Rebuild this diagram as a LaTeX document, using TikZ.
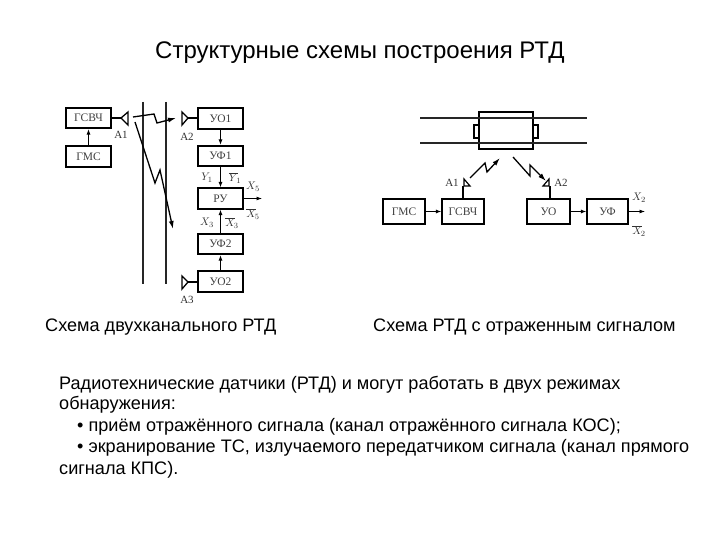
\documentclass[tikz,border=0pt]{standalone}
\usepackage{fontspec}
\setmainfont{Liberation Sans}
\newfontfamily\serifcyr{Liberation Serif}
\usetikzlibrary{arrows.meta}
\tikzset{
  x=1pt,y=-1pt,
  blockbox/.style={draw=black,line width=1.6pt,fill=white,inner sep=0pt,font=\serifcyr\fontsize{11.5}{12}\selectfont,text=black!75},
  lefta/.style={blockbox,minimum width=45pt,minimum height=20.5pt},
  rightw/.style={blockbox,line width=1.2pt,minimum height=25pt},
  link/.style={line width=0.9pt,-{Latex[length=5.5pt,width=4pt]}},
  stem/.style={line width=1.2pt},
  antenna/.style={draw=black,line width=1.3pt,fill=white,line join=miter},
  rail/.style={line width=2pt,black!85},
  bolt/.style={line width=1.3pt,-{Latex[length=8pt,width=5pt]}},
  small/.style={inner sep=0pt,font=\serifcyr\fontsize{11}{12}\selectfont,text=black!80},
  heading/.style={inner sep=0pt,anchor=base west,font=\fontsize{24}{26}\selectfont},
  caption/.style={inner sep=0pt,anchor=base west,font=\fontsize{18.1}{20}\selectfont},
  bodyline/.style={inner sep=0pt,anchor=base west,font=\fontsize{18.1}{20}\selectfont},
}
\begin{document}
\begin{tikzpicture}
\useasboundingbox[fill=white] (0,0) rectangle (720,540);
\node[heading] (title) at (155,59) {Структурные схемы построения РТД};
% left scheme: rails
\coordinate (r1t) at (143,102); \coordinate (r1b) at (143,284);
\coordinate (r2t) at (166,102); \coordinate (r2b) at (166,284);
\draw[rail] (r1t) -- (r1b);
\draw[rail,line width=1.6pt] (r2t) -- (r2b);
% left blocks
\node[lefta] (gsvch) at (88.5,118) {ГСВЧ};
\node[lefta] (gms) at (88.5,156.5) {ГМС};
\node[lefta] (uo1) at (220.5,118.5) {УО1};
\node[lefta] (uf1) at (220.5,156) {УФ1};
\node[lefta] (ru) at (220.5,198.5) {РУ};
\node[lefta] (uf2) at (220.5,244) {УФ2};
\node[lefta] (uo2) at (220.5,281.5) {УО2};
\draw[link] (gms) -- (gsvch);
\draw[link] (uo1) -- (uf1);
\draw[link] (uf1) -- (ru);
\draw[link] (uf2) -- (ru);
\draw[link] (uo2) -- (uf2);
% left antennas
\coordinate (a1tip) at (121,118);
\coordinate (a2tip) at (188,118);
\coordinate (a3tip) at (188,282);
\draw[stem] (gsvch) -- (a1tip);
\draw[stem] (uo1.west |- a2tip) -- (a2tip);
\draw[stem] (uo2.west |- a3tip) -- (a3tip);
\draw[antenna] (a1tip) -- (128,112) -- (128,125) -- cycle;
\draw[antenna] (a2tip) -- (182,112) -- (182,125) -- cycle;
\draw[antenna] (a3tip) -- (182,276) -- (182,289) -- cycle;
\node[small] (la1) at (121,135) {А1};
\node[small] (la2) at (187,137) {А2};
\node[small] (la3) at (187,300) {А3};
% left bolts
\coordinate (b1a) at (133,117); \coordinate (b1b) at (154,114);
\coordinate (b1c) at (157,123); \coordinate (b1d) at (176,118);
\draw[bolt] (b1a) -- (b1b) -- (b1c) -- (b1d);
\coordinate (b2a) at (135,122); \coordinate (b2b) at (155,183);
\coordinate (b2c) at (160,170); \coordinate (b2d) at (173,229);
\draw[bolt] (b2a) -- (b2b) -- (b2c) -- (b2d);
% left signal labels
\coordinate (ruout) at (262,198.5);
\draw[link] (ru) -- (ruout);
\node[small] (y1) at (207,178) {$Y_1$};
\node[small] (y1b) at (235,178) {$\overline{Y}_{\!1}$};
\node[small] (x3) at (207,223) {$X_3$};
\node[small] (x3b) at (232,223) {$\overline{X}_{\!3}$};
\node[small] (x5) at (253,187) {$X_5$};
\node[small] (x5b) at (253,214) {$\overline{X}_{\!5}$};
% right scheme
\coordinate (r3l) at (420,118); \coordinate (r3r) at (587,118);
\coordinate (r4l) at (420,143); \coordinate (r4r) at (587,143);
\node[draw=black,line width=1.1pt,fill=white,minimum width=5pt,minimum height=13pt,inner sep=0pt] (lug1) at (476.5,131.5) {};
\node[draw=black,line width=1.1pt,fill=white,minimum width=5pt,minimum height=13pt,inner sep=0pt] (lug2) at (535.5,131.5) {};
\node[draw=black,line width=1.2pt,minimum width=54pt,minimum height=37pt,inner sep=0pt,fill=white] (car) at (506,130.5) {};
\draw[rail] (r3l) -- (r3r);
\draw[rail] (r4l) -- (r4r);
\node[rightw,minimum width=42pt] (gms2) at (404,211.5) {ГМС};
\node[rightw,minimum width=42pt] (gsvch2) at (463,211.5) {ГСВЧ};
\node[rightw,minimum width=43pt] (uo) at (548.5,211.5) {УО};
\node[rightw,minimum width=41pt] (uf) at (607.5,211.5) {УФ};
\draw[link] (gms2) -- (gsvch2);
\draw[link] (uo) -- (uf);
\coordinate (ufout) at (645,211.5);
\draw[link] (uf) -- (ufout);
\coordinate (a4tip) at (463,186);
\coordinate (a5tip) at (550,186);
\draw[stem] (gsvch2.north -| a4tip) -- (a4tip);
\draw[stem] (uo.north -| a5tip) -- (a5tip);
\draw[antenna,line width=1.2pt] (464,179) -- (470,186) -- (464,186) -- cycle;
\draw[antenna,line width=1.2pt] (549,179) -- (549,186) -- (543,186) -- cycle;
\node[small] (la4) at (452,183) {А1};
\node[small] (la5) at (561,183) {А2};
\coordinate (b3a) at (470,178); \coordinate (b3b) at (485,163);
\coordinate (b3c) at (487,172); \coordinate (b3d) at (500,158);
\draw[bolt] (b3a) -- (b3b) -- (b3c) -- (b3d);
\coordinate (b4a) at (513,157); \coordinate (b4b) at (530,176);
\coordinate (b4c) at (530,165); \coordinate (b4d) at (546,181);
\draw[bolt] (b4a) -- (b4b) -- (b4c) -- (b4d);
\node[small] (x2) at (639,198) {$X_2$};
\node[small] (x2b) at (639,231) {$\overline{X}_{\!2}$};
% captions
\node[caption] (c1) at (45,331) {Схема двухканального РТД};
\node[caption] (c2) at (373,331) {Схема РТД с отраженным сигналом};
% body text
\node[bodyline] (t1) at (59,389) {Радиотехнические датчики (РТД) и могут работать в двух режимах};
\node[bodyline] (t2) at (59,409) {обнаружения:};
\node[bodyline] (t3) at (77,431) {• приём отражённого сигнала (канал отражённого сигнала КОС);};
\node[bodyline] (t4) at (77,452) {• экранирование ТС, излучаемого передатчиком сигнала (канал прямого};
\node[bodyline] (t5) at (59,474) {сигнала КПС).};
\end{tikzpicture}
\end{document}
